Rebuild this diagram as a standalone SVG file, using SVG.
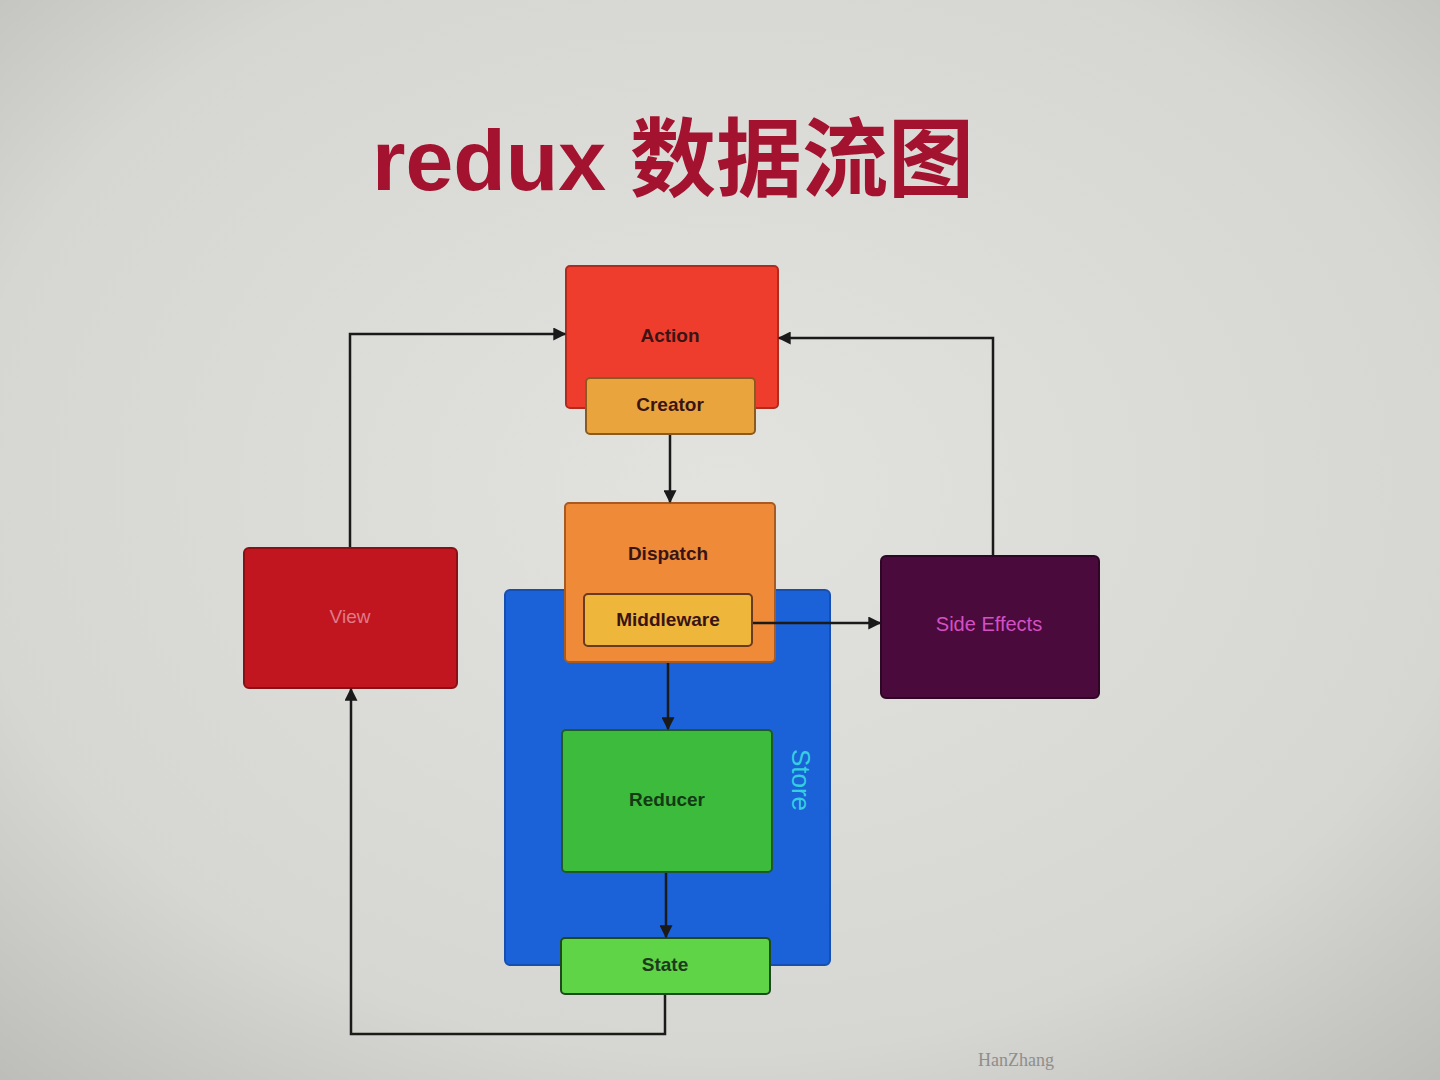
<svg xmlns="http://www.w3.org/2000/svg" width="1440" height="1080" viewBox="0 0 1440 1080">
<defs>
<radialGradient id="bg" cx="50%" cy="45%" r="75%">
<stop offset="0" stop-color="#e2e2de"/>
<stop offset="0.7" stop-color="#d6d6d2"/>
<stop offset="1" stop-color="#bcbcb8"/>
</radialGradient>
<marker id="arr" viewBox="0 0 10 10" refX="9" refY="5" markerWidth="14" markerHeight="13" orient="auto-start-reverse" markerUnits="userSpaceOnUse">
<path d="M0,0 L10,5 L0,10 z" fill="#1a1a1a"/>
</marker>
<style>
.lbl{font-family:"Liberation Sans",Arial,sans-serif;font-size:19px;font-weight:bold;text-anchor:middle;dominant-baseline:central;fill:#3a1414}
.box{stroke-width:2}
.conn{fill:none;stroke:#1a1a1a;stroke-width:2.5}
.connA{fill:none;stroke:#1a1a1a;stroke-width:2.5;marker-end:url(#arr)}
</style>
</defs>
<rect width="1440" height="1080" fill="url(#bg)"/>
<text x="372" y="190" font-family="Liberation Sans,'Noto Sans CJK SC',sans-serif" font-size="86" font-weight="bold" fill="#a3122e">redux 数据流图</text>

<g id="store">
<rect x="505" y="590" width="325" height="375" rx="5" fill="#1b62d8" stroke="#164fb0" class="box"/>
<text x="0" y="0" transform="translate(801,780) rotate(90)" font-family="Liberation Sans,Arial,sans-serif" font-size="26" text-anchor="middle" dominant-baseline="central" fill="#35cfe0">Store</text>
</g>

<g id="action">
<rect x="566" y="266" width="212" height="142" rx="4" fill="#ef3d2d" stroke="#b02a1e" class="box"/>
<text x="670" y="335" class="lbl">Action</text>
</g>
<g id="creator">
<rect x="586" y="378" width="169" height="56" rx="4" fill="#e9a43e" stroke="#8a5a1e" class="box"/>
<text x="670" y="404" class="lbl">Creator</text>
</g>
<g id="dispatch">
<rect x="565" y="503" width="210" height="159" rx="4" fill="#ee8a38" stroke="#a85a20" class="box"/>
<text x="668" y="553" class="lbl">Dispatch</text>
</g>
<g id="middleware">
<rect x="584" y="594" width="168" height="52" rx="4" fill="#efb63c" stroke="#6a3a1e" class="box"/>
<text x="668" y="619" class="lbl">Middleware</text>
</g>
<g id="reducer">
<rect x="562" y="730" width="210" height="142" rx="4" fill="#3dbb3d" stroke="#1e5a2a" class="box"/>
<text x="667" y="799" class="lbl" style="fill:#143a14">Reducer</text>
</g>
<g id="state">
<rect x="561" y="938" width="209" height="56" rx="4" fill="#5ed446" stroke="#1e4a1e" class="box"/>
<text x="665" y="964" class="lbl" style="fill:#1e3a1e">State</text>
</g>
<g id="view">
<rect x="244" y="548" width="213" height="140" rx="5" fill="#c1161f" stroke="#8a1016" class="box"/>
<text x="350" y="616" font-family="Liberation Sans,Arial,sans-serif" font-size="19" text-anchor="middle" dominant-baseline="central" fill="#e07a88">View</text>
</g>
<g id="side-effects">
<rect x="881" y="556" width="218" height="142" rx="5" fill="#4a0b3c" stroke="#2e0626" class="box"/>
<text x="989" y="624" font-family="Liberation Sans,Arial,sans-serif" font-size="20" text-anchor="middle" dominant-baseline="central" fill="#d44fc4">Side Effects</text>
</g>

<g id="connectors">
<polyline class="connA" points="350,547 350,334 565,334"/>
<polyline class="connA" points="993,555 993,338 779,338"/>
<polyline class="connA" points="670,435 670,502"/>
<polyline class="connA" points="753,623 880,623"/>
<polyline class="connA" points="668,663 668,729"/>
<polyline class="connA" points="666,873 666,937"/>
<polyline class="connA" points="665,995 665,1034 351,1034 351,689"/>
</g>

<text x="978" y="1066" font-family="Liberation Serif,serif" font-size="18" fill="#8e8e8a">HanZhang</text>
</svg>
